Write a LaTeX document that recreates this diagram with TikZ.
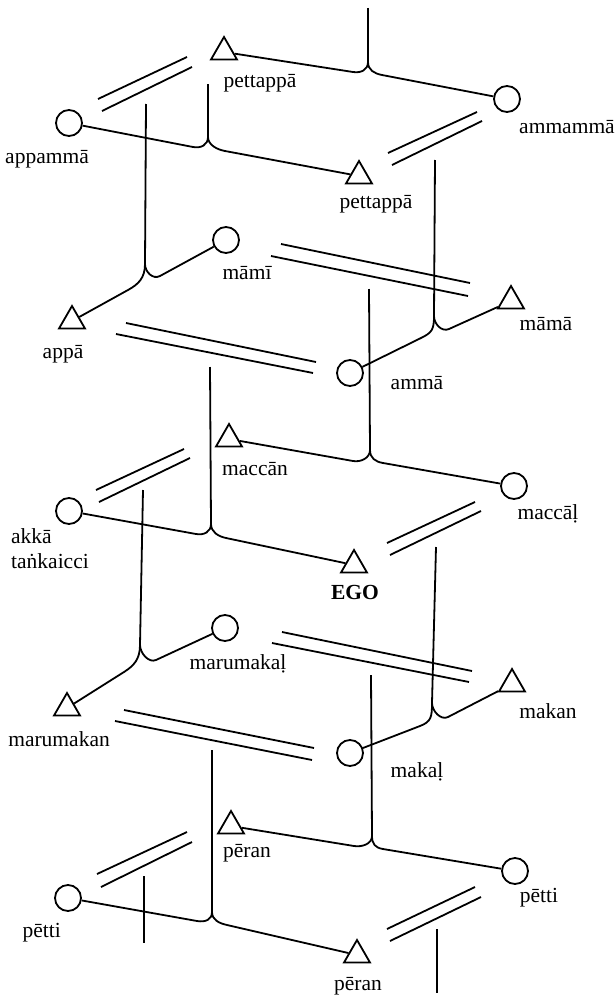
\documentclass[tikz,border=0pt]{standalone}
\usepackage{fontspec}
\setmainfont{Liberation Serif}
\usetikzlibrary{shapes.geometric,calc}
\newcommand\kinbranch[5]{\draw[kin] (#1) -- (#2) .. controls ($(#2)!-#4pt!(#1)$) and ($(#3)+(0,#5)$) .. (#3);}
\newcommand\kinmarriage[5]{%
  \coordinate (#1a) at #2; \coordinate (#1b) at #3;
  \coordinate (#1c) at #4; \coordinate (#1d) at #5;
  \draw[kin] (#1a) -- (#1b) (#1c) -- (#1d);}
\begin{document}
\begin{tikzpicture}[x=1pt,y=-1pt,
  kin/.style={line width=1.8pt},
  fem/.style={circle,draw,line width=1.8pt,minimum size=26pt,inner sep=0pt},
  male/.style={regular polygon,regular polygon sides=3,draw,line width=1.8pt,minimum size=30pt,inner sep=0pt},
  lab/.style={anchor=base,inner sep=0pt,font=\fontsize{21.5}{25}\selectfont},
]
\useasboundingbox (0,0) rectangle (615,998);

% persons
\node[male] (pettA) at (224,52) {};
\node[fem] (appamma) at (69,123) {};
\node[fem] (ammamma) at (507,99) {};
\node[male] (pettB) at (359,176) {};
\node[fem] (mami) at (226,240) {};
\node[male] (appa) at (72,321) {};
\node[male] (mama) at (511,301) {};
\node[fem] (amma) at (350,373) {};
\node[male] (maccan) at (229,439) {};
\node[fem] (akka) at (69,511) {};
\node[fem] (maccal) at (514,486) {};
\node[male] (ego) at (354,565) {};
\node[fem] (marumakal) at (225,628) {};
\node[male] (marumakan) at (67,708) {};
\node[male] (makan) at (512,684) {};
\node[fem] (makal) at (350,753) {};
\node[male] (peranA) at (231,826) {};
\node[fem] (pettiA) at (68,898) {};
\node[fem] (pettiB) at (515,871) {};
\node[male] (peranB) at (357,955) {};

% labels
\node[lab] (t1) at (260,87) {pettappā};
\node[lab] (t2) at (47,163) {appammā};
\node[lab] (t3) at (567,133) {ammammā};
\node[lab] (t4) at (376,208) {pettappā};
\node[lab] (t5) at (247,279) {māmī};
\node[lab] (t6) at (63,358) {appā};
\node[lab] (t7) at (546,330) {māmā};
\node[lab] (t8) at (417,389) {ammā};
\node[lab] (t9) at (255,475) {maccān};
\node[lab,anchor=base west] (t10) at (11,543) {akkā};
\node[lab,anchor=base west] (t11) at (11,568) {taṅkaicci};
\node[lab] (t12) at (548,519) {maccāḷ};
\node[lab,font=\fontsize{21.5}{25}\selectfont\bfseries] (t13) at (355,599) {EGO};
\node[lab] (t14) at (238,669) {marumakaḷ};
\node[lab,anchor=base east] (t15) at (110,746) {marumakan};
\node[lab] (t16) at (548,718) {makan};
\node[lab] (t17) at (417,777) {makaḷ};
\node[lab] (t18) at (247,857) {pēran};
\node[lab,anchor=base east] (t19) at (61,937) {pētti};
\node[lab] (t20) at (539,902) {pētti};
\node[lab] (t21) at (358,990) {pēran};

% marriages (double lines)
\kinmarriage{m1}{(98,99)}{(187,57)}{(102,111)}{(192,67)}
\kinmarriage{m2}{(388,153)}{(477,112)}{(392,165)}{(482,121)}
\kinmarriage{m3}{(126,323)}{(316,362)}{(116,334)}{(313,373)}
\kinmarriage{m4}{(281,244)}{(470,283)}{(271,256)}{(468,296)}
\kinmarriage{m5}{(96,490)}{(184,449)}{(99,502)}{(190,458)}
\kinmarriage{m6}{(387,543)}{(475,502)}{(390,555)}{(481,511)}
\kinmarriage{m7}{(124,710)}{(314,748)}{(115,721)}{(312,760)}
\kinmarriage{m8}{(282,632)}{(472,671)}{(272,643)}{(469,682)}
\kinmarriage{m9}{(97,874)}{(187,832)}{(101,887)}{(192,842)}
\kinmarriage{m10}{(387,929)}{(475,887)}{(390,941)}{(481,897)}

% sibling cusps and bend points
\coordinate (cA) at (368,62);  \coordinate (pAL) at (353,72);  \coordinate (pAR) at (382,75);
\coordinate (cB) at (208,137); \coordinate (pBL) at (193,147); \coordinate (pBR) at (225,151);
\coordinate (cC) at (145,264); \coordinate (pCL) at (128,290); \coordinate (pCR) at (160,276);
\coordinate (cD) at (434,316); \coordinate (pDL) at (421,338); \coordinate (pDR) at (449,329);
\coordinate (cE) at (370,450); \coordinate (pEL) at (353,461); \coordinate (pER) at (383,463);
\coordinate (cF) at (211,524); \coordinate (pFL) at (196,534); \coordinate (pFR) at (226,538);
\coordinate (cG) at (140,645); \coordinate (pGL) at (124,672); \coordinate (pGR) at (156,660);
\coordinate (cH) at (432,703); \coordinate (pHL) at (420,726); \coordinate (pHR) at (448,717);
\coordinate (cI) at (372,836); \coordinate (pIL) at (354,846); \coordinate (pIR) at (383,849);
\coordinate (cJ) at (212,912); \coordinate (pJL) at (197,921); \coordinate (pJR) at (227,925);

% descent lines
\coordinate (dA) at (368,8);
\coordinate (dB) at (208,84);
\coordinate (dC) at (146,104);
\coordinate (dD) at (435,160);
\coordinate (dE) at (369,289);
\coordinate (dF) at (210,367);
\coordinate (dG) at (143,490);
\coordinate (dH) at (436,547);
\coordinate (dI) at (371,675);
\coordinate (dJ) at (212,750);
\coordinate (dK) at (144,876); \coordinate (eK) at (144,943);
\coordinate (dL) at (437,929); \coordinate (eL) at (437,993);
\draw[kin] (dA) -- (cA);
\draw[kin] (dB) -- (cB);
\draw[kin] (dC) -- (cC);
\draw[kin] (dD) -- (cD);
\draw[kin] (dE) -- (cE);
\draw[kin] (dF) -- (cF);
\draw[kin] (dG) -- (cG);
\draw[kin] (dH) -- (cH);
\draw[kin] (dI) -- (cI);
\draw[kin] (dJ) -- (cJ);
\draw[kin] (dK) -- (eK);
\draw[kin] (dL) -- (eL);

% sibling branches
\kinbranch{pettA}{pAL}{cA}{8}{8}
\kinbranch{ammamma}{pAR}{cA}{8}{8}
\kinbranch{appamma}{pBL}{cB}{8}{8}
\kinbranch{pettB}{pBR}{cB}{8}{8}
\kinbranch{appa}{pCL}{cC}{12}{14}
\kinbranch{mami}{pCR}{cC}{8}{8}
\kinbranch{amma}{pDL}{cD}{12}{14}
\kinbranch{mama}{pDR}{cD}{8}{8}
\kinbranch{maccan}{pEL}{cE}{8}{8}
\kinbranch{maccal}{pER}{cE}{8}{8}
\kinbranch{akka}{pFL}{cF}{8}{8}
\kinbranch{ego}{pFR}{cF}{8}{8}
\kinbranch{marumakan}{pGL}{cG}{12}{14}
\kinbranch{marumakal}{pGR}{cG}{8}{8}
\kinbranch{makal}{pHL}{cH}{12}{14}
\kinbranch{makan}{pHR}{cH}{8}{8}
\kinbranch{peranA}{pIL}{cI}{8}{8}
\kinbranch{pettiB}{pIR}{cI}{8}{8}
\kinbranch{pettiA}{pJL}{cJ}{8}{8}
\kinbranch{peranB}{pJR}{cJ}{8}{8}
\end{tikzpicture}
\end{document}
